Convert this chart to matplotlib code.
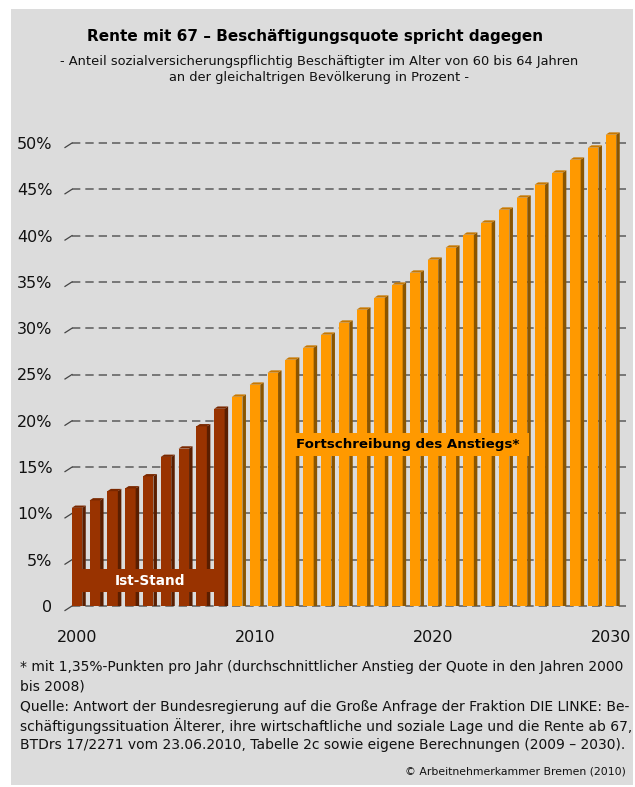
import matplotlib
matplotlib.use("Agg")
import matplotlib.pyplot as plt
from matplotlib.patches import Polygon, Rectangle

years = list(range(2000, 2031))
quote = [10.6, 11.4, 12.4, 12.7, 14.0, 16.1, 17.0, 19.4, 21.3,
         22.6, 23.9, 25.2, 26.6, 27.9, 29.3, 30.6, 32.0, 33.3, 34.7,
         36.0, 37.4, 38.7, 40.1, 41.4, 42.8, 44.1, 45.5, 46.8, 48.2,
         49.5, 50.9]
last_actual = 2008
yticks = [0, 5, 10, 15, 20, 25, 30, 35, 40, 45, 50]
ytick_labels = ["0", "5%", "10%", "15%", "20%", "25%", "30%", "35%",
                "40%", "45%", "50%"]
xticks = [2000, 2010, 2020, 2030]

title = "Rente mit 67 \u2013 Besch\u00e4ftigungsquote spricht dagegen"
subtitle = ("- Anteil sozialversicherungspflichtig Besch\u00e4ftigter im Alter von 60 bis 64 Jahren\n"
            "an der gleichaltrigen Bev\u00f6lkerung in Prozent -")
footnote = ["* mit 1,35%-Punkten pro Jahr (durchschnittlicher Anstieg der Quote in den Jahren 2000",
            "bis 2008)"]
source = ["Quelle: Antwort der Bundesregierung auf die Gro\u00dfe Anfrage der Fraktion DIE LINKE: Be-",
          "sch\u00e4ftigungssituation \u00c4lterer, ihre wirtschaftliche und soziale Lage und die Rente ab 67,",
          "BTDrs 17/2271 vom 23.06.2010, Tabelle 2c sowie eigene Berechnungen (2009 \u2013 2030)."]
copyright = "\u00a9 Arbeitnehmerkammer Bremen (2010)"

W, H = 635, 787
fig = plt.figure(figsize=(W / 100, H / 100), dpi=100)
fig.patch.set_facecolor("white")
fig.patches.append(Rectangle((11 / W, 2 / H), 622 / W, 776 / H,
                             transform=fig.transFigure, facecolor="#dcdcdc",
                             edgecolor="none", zorder=-5))

# axes in pixel terms: year 2000 centre at x=77, 17.8 px per year; 0 at y=606, 9.26 px per %
px_year = 17.8
px_pct = 9.26
x0_px, x1_px = 65, 632
y0_px, y1_px = 606, 120
ax = fig.add_axes([x0_px / W, (H - y0_px) / H, (x1_px - x0_px) / W, (y0_px - y1_px) / H])
ax.set_zorder(2)
ax.set_xlim(2000 - (77 - x0_px) / px_year, 2000 + (x1_px - 77) / px_year)
ax.set_ylim(0, (y0_px - y1_px) / px_pct)
ax.patch.set_visible(False)
for s in ax.spines.values():
    s.set_visible(False)

# 3d geometry (data units)
bw = 10.5 / px_year
dx = 3.5 / px_year
dy = 2.3 / px_pct

# back-wall grid with small diagonal ticks
gx0 = 2000 - 5 / px_year
gx1 = 2030 + 15 / px_year
for g in yticks:
    ax.plot([gx0, gx1], [g, g], color="#666666", lw=1.2, ls=(0, (5, 3)), zorder=1,
            clip_on=False)
    ax.plot([gx0 - 7 / px_year, gx0], [g - 4.5 / px_pct, g], color="#444444", lw=0.9,
            zorder=1, clip_on=False)

for yr, v in zip(years, quote):
    if yr <= last_actual:
        front, side, top = "#993300", "#5a1e00", "#7a2800"
    else:
        front, side, top = "#ff9900", "#8a5500", "#c87800"
    l, r = yr - bw / 2, yr + bw / 2
    ax.bar(yr, v, width=bw, color=front, linewidth=0, zorder=3)
    ax.add_patch(Polygon([(r, 0), (r + dx, 0), (r + dx, v + dy), (r, v)],
                         closed=True, facecolor=side, edgecolor="none", zorder=3))
    ax.add_patch(Polygon([(l, v), (r, v), (r + dx, v + dy), (l + dx, v + dy)],
                         closed=True, facecolor=top, edgecolor="none", zorder=3))

ax.set_yticks(yticks)
ax.set_yticklabels(ytick_labels)
ax.set_xticks(xticks)
ax.set_xticklabels([str(x) for x in xticks])
ax.tick_params(axis="y", length=0, pad=9, labelsize=11.5, labelcolor="#111111")
ax.tick_params(axis="x", length=0, pad=17, labelsize=11.5, labelcolor="#111111")

# label boxes
ax.add_patch(Rectangle((2000 - 5 / px_year, 1.5), 8.45, 2.5, facecolor="#993300",
                       edgecolor="none", zorder=5))
ax.text(2004.1, 2.75, "Ist-Stand", color="white", fontsize=9.8, fontweight="bold",
        ha="center", va="center", zorder=6)
ax.add_patch(Rectangle((2012.25, 16.2), 13.15, 2.5, facecolor="#ff9900",
                       edgecolor="none", zorder=5))
ax.text(2018.6, 17.45, "Fortschreibung des Anstiegs*", color="black", fontsize=9.6,
        fontweight="bold", ha="center", va="center", zorder=6)

# texts
fig.text(315 / W, 1 - 37 / H, title, ha="center", va="center", fontsize=11,
         fontweight="bold", color="black")
fig.text(319 / W, 1 - 69 / H, subtitle, ha="center", va="center", fontsize=9.4,
         color="#111111", linespacing=1.3)
for i, line in enumerate(footnote):
    fig.text(20 / W, 1 - (667 + 19 * i) / H, line, ha="left", va="center",
             fontsize=10, color="#111111")
for i, line in enumerate(source):
    fig.text(20 / W, 1 - (707 + 19 * i) / H, line, ha="left", va="center",
             fontsize=10, color="#111111")
fig.text(626 / W, 1 - 771 / H, copyright, ha="right", va="center", fontsize=7.8,
         color="#111111")

fig.savefig("out.png", dpi=100, facecolor=fig.get_facecolor())
